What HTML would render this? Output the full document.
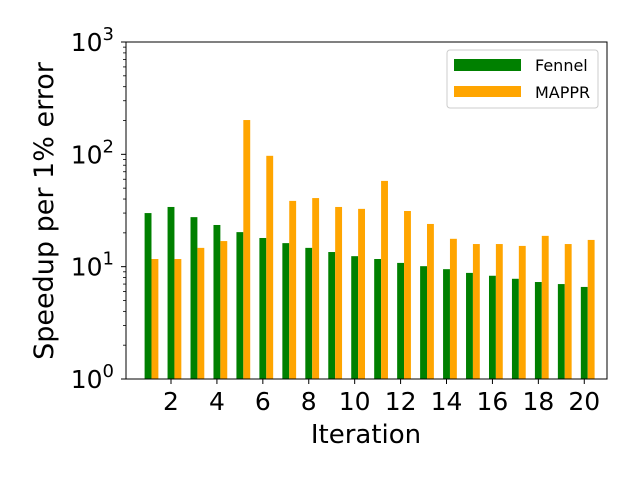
<!DOCTYPE html>
<html><head><meta charset="utf-8"><style>
body{margin:0;background:#fff;}
text{font-family:"DejaVu Sans","Liberation Sans",sans-serif;fill:#000;}
</style></head><body>
<svg id="chart" width="640" height="480">
<rect x="0" y="0" width="640" height="480" fill="#fff"/>
<g id="bars"></g>
<g id="axes"></g>
<rect x="126" y="42" width="481" height="337" fill="none" stroke="#000" stroke-width="1"/>
<text x="366" y="443" font-size="26" text-anchor="middle">Iteration</text>
<text transform="translate(53,211) rotate(-90)" font-size="27" text-anchor="middle">Speedup per 1% error</text>
<g>
<rect x="447" y="50" width="151" height="58" rx="3" fill="#fff" stroke="#ccc"/>
<rect x="454" y="59" width="67" height="12" fill="#008000"/>
<text x="535" y="71" font-size="16">Fennel</text>
<rect x="454" y="86" width="67" height="11" fill="#ffa500"/>
<text x="535" y="98" font-size="16">MAPPR</text>
</g>
</svg>
<script>
const iterations=[1,2,3,4,5,6,7,8,9,10,11,12,13,14,15,16,17,18,19,20];
const fennel=[30,34,27.6,23.5,20.3,18,16.2,14.7,13.5,12.4,11.7,10.8,10.1,9.5,8.8,8.3,7.8,7.3,7.0,6.6];
const mappr=[11.7,11.7,14.7,16.9,202,97,38.5,40.8,34,32.7,58,31.3,24,17.7,15.9,15.9,15.3,18.8,15.9,17.3];
const xTicks=[2,4,6,8,10,12,14,16,18,20];
const yTickExp=[0,1,2,3];
const NS="http://www.w3.org/2000/svg";
const X0=126,X1=607,Y0=379,Y1=42;
const xMin=0.04,xMax=20.99;
function xs(v){return X0+(v-xMin)/(xMax-xMin)*(X1-X0);}
function ys(v){return Y0-(Math.log10(v)-0)/3*(Y0-Y1);}
const bw=0.3;
const bars=document.getElementById('bars');
function mk(tag,attrs,parent){const e=document.createElementNS(NS,tag);for(const k in attrs)e.setAttribute(k,attrs[k]);parent.appendChild(e);return e;}
iterations.forEach((it,i)=>{
  let xl=xs(it-bw/2),xr=xs(it+bw/2);
  let r=mk('rect',{x:xl,y:ys(fennel[i]),width:xr-xl,height:Y0-ys(fennel[i]),fill:'#008000'},bars);
  
  
  xl=xs(it+bw/2);xr=xs(it+1.5*bw);
  r=mk('rect',{x:xl,y:ys(mappr[i]),width:xr-xl,height:Y0-ys(mappr[i]),fill:'#ffa500'},bars);
  
  
});
const axes=document.getElementById('axes');
xTicks.forEach(t=>{
  const x=xs(t);
  mk('line',{x1:x,x2:x,y1:Y0,y2:Y0+5,stroke:'#000'},axes);
  const tx=mk('text',{x:x,y:Y0+31,'font-size':25,'text-anchor':'middle'},axes);
  tx.textContent=t;
  
  
});
yTickExp.forEach(e=>{
  const y=ys(Math.pow(10,e));
  mk('line',{x1:X0-5,x2:X0,y1:y,y2:y,stroke:'#000'},axes);
  const tx=mk('text',{x:X0-12,y:y+9,'font-size':25,'text-anchor':'end'},axes);
  tx.innerHTML='10<tspan dy="-11" font-size="18">'+e+'</tspan>';
  
  
  if(e<3){for(let m=2;m<10;m++){const ym=ys(m*Math.pow(10,e));mk('line',{x1:X0-3,x2:X0,y1:ym,y2:ym,stroke:'#000','stroke-width':0.8},axes);}}
});
</script>
</body></html>
